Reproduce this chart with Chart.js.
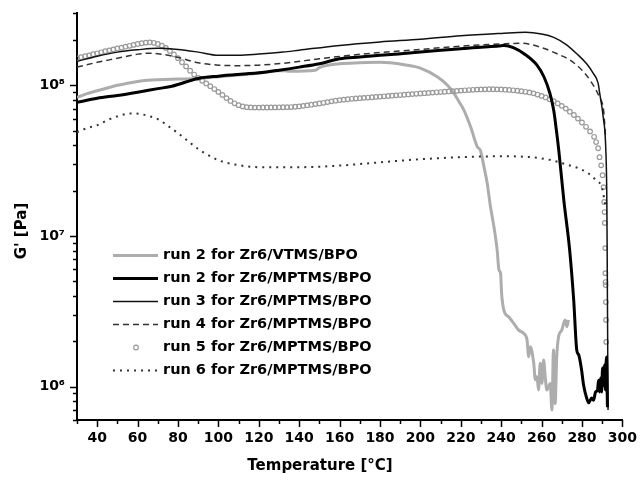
<!DOCTYPE html>
<html><head><meta charset="utf-8">
<script src="https://cdn.jsdelivr.net/npm/chart.js@4"></script>
<style>html,body{margin:0;padding:0;background:#fff}</style>
</head><body>
<canvas id="c" width="640" height="481"></canvas>
<script>
const seriesLabels = ["run 2 for Zr6/VTMS/BPO","run 2 for Zr6/MPTMS/BPO","run 3 for Zr6/MPTMS/BPO","run 4 for Zr6/MPTMS/BPO","run 5 for Zr6/MPTMS/BPO","run 6 for Zr6/MPTMS/BPO"];

const vtmsT = [30,35,40,45,50,55,60,65,70,80,90,100,110,120,130,133,135,148,150,160,170,180,185,192,200,208.5,213.4,216.7,219.2,221.6,224.9,228.2,229.7,231.5,233.1,234.7,236.4,238,238.9,239.7,240.2,241.3,243.8,246.2,248.7,251.2,252.8,253.6,254.4,256.1,256.9,257.7,258.5,259.3,260.2,261,261.8,262.6,264.3,265.1,265.9,266.7,267.5,268.4,270,271.6,272.5,273.3];
const vtmsG = [8.3e7,8.8e7,9.2e7,9.6e7,1.0e8,1.03e8,1.06e8,1.08e8,1.09e8,1.1e8,1.11e8,1.14e8,1.17e8,1.2e8,1.25e8,1.25e8,1.24e8,1.26e8,1.31e8,1.39e8,1.41e8,1.42e8,1.41e8,1.37e8,1.3e8,1.135e8,1.0e8,8.8e7,7.75e7,6.82e7,5.28e7,3.9e7,3.7e7,2.87e7,2.23e7,1.56e7,1.15e7,8.05e6,5.93e6,5.64e6,4.17e6,3.22e6,2.9e6,2.63e6,2.37e6,2.25e6,2.04e6,1.58e6,1.84e6,1.43e6,1.11e6,1.16e6,9.5e5,1.43e6,1.05e6,1.5e6,1.16e6,9.5e5,1.05e6,7.0e5,1.75e6,7.7e5,1.58e6,2.14e6,2.37e6,2.77e6,2.5e6,2.77e6];

const run2T = [30,40,50,60,70,77,90,100,120,130,140,150,160,170,180,200,220,240,241.5,246,251.3,257.7,261.2,264.1,266,267.5,268.5,271,273.9,275.9,277.4,278.4,279.8,280.8,282.3,283.3,284.8,285.7,286.7,287.7,288.2,288.7,289.2,289.7,290.2,290.7,291.2,291.6,292.1,292.6];
const run2G = [7.7e7,8.2e7,8.56e7,9.0e7,9.5e7,9.85e7,1.11e8,1.15e8,1.21e8,1.26e8,1.32e8,1.39e8,1.5e8,1.54e8,1.58e8,1.66e8,1.75e8,1.83e8,1.84e8,1.78e8,1.62e8,1.36e8,1.135e8,8.85e7,6.82e7,4.81e7,3.71e7,1.73e7,8.06e6,3.75e6,1.75e6,1.62e6,1.29e6,1.02e6,8.4e5,7.8e5,8.4e5,8.1e5,9.2e5,9.5e5,1.1e6,9.2e5,1.14e6,9.2e5,1.33e6,1.02e6,1.39e6,9.5e5,1.57e6,7.3e5];

const run3T = [30,40,50,60,70,80,90,100,110,120,132,140,160,180,200,220,240,252,260,266,272,277.4,282.3,285.6,288,288.8,290.5,291.8,292.3,292.6,292.9];
const run3G = [1.44e8,1.56e8,1.66e8,1.72e8,1.76e8,1.73e8,1.66e8,1.58e8,1.58e8,1.61e8,1.66e8,1.71e8,1.84e8,1.94e8,2.02e8,2.13e8,2.21e8,2.25e8,2.19e8,2.08e8,1.87e8,1.62e8,1.39e8,1.2e8,1.03e8,8.8e7,6.17e7,3.71e7,1.73e7,3.75e6,7.0e5];

const run4T = [30,40,50,60,65,70,80,90,100,110,120,132,150,169,180,200,220,240,250,261,268,274,280,284,288.7,290.7,291.6];
const run4G = [1.32e8,1.42e8,1.51e8,1.61e8,1.63e8,1.62e8,1.53e8,1.41e8,1.36e8,1.35e8,1.36e8,1.4e8,1.5e8,1.6e8,1.65e8,1.73e8,1.82e8,1.88e8,1.9e8,1.76e8,1.61e8,1.47e8,1.26e8,1.08e8,8.3e7,6.8e7,4.7e7];

const run5T = [30,32,34,36,38,40,42,44,46,48,50,52,54,56,58,60,62,64,66,68,70,72,74,76,78,80,82,84,86,88,90,92,94,96,98,100,102,104,106,108,110,112,114,116,118,
120,122,124,126,128,130,132,134,136,138,140,142,144,146,148,150,152,154,156,158,160,162,164,166,168,170,172,174,176,178,180,182,184,186,188,190,192,194,196,198,200,202,204,206,208,210,212,214,216,218,220,222,224,226,228,230,232,234,236,238,240,242,244,246,248,250,252,254,256,258,260,262,264,266,268,270,272,274,276,278,280,282,284,286,287,288,
288.7,289.5,290.2,290.7,291.0,291.2,291.3,291.5,291.6,291.65,291.7,291.8,291.9,292.0];
const run5G = [1.51e8,1.535e8,1.56e8,1.58e8,1.607e8,1.63e8,1.656e8,1.683e8,1.706e8,1.73e8,1.754e8,1.778e8,1.803e8,1.828e8,1.854e8,1.879e8,1.901e8,1.919e8,1.928e8,1.914e8,1.879e8,1.832e8,1.77e8,1.69e8,1.603e8,1.514e8,1.422e8,1.334e8,1.25e8,1.178e8,1.119e8,1.072e8,1.028e8,9.86e7,9.44e7,9.04e7,8.63e7,8.22e7,7.87e7,7.59e7,7.38e7,7.24e7,7.16e7,7.13e7,7.11e7,
7.11e7,7.12e7,7.12e7,7.13e7,7.13e7,7.14e7,7.15e7,7.16e7,7.17e7,7.2e7,7.24e7,7.3e7,7.36e7,7.43e7,7.5e7,7.57e7,7.65e7,7.73e7,7.82e7,7.9e7,7.97e7,8.03e7,8.08e7,8.13e7,8.17e7,8.21e7,8.25e7,8.29e7,8.33e7,8.37e7,8.41e7,8.45e7,8.49e7,8.53e7,8.57e7,8.61e7,8.65e7,8.7e7,8.74e7,8.78e7,8.82e7,8.86e7,8.9e7,8.94e7,8.98e7,9.02e7,9.06e7,9.1e7,9.14e7,9.18e7,9.22e7,9.26e7,9.3e7,9.33e7,9.36e7,9.38e7,9.4e7,9.41e7,9.41e7,9.4e7,9.38e7,9.35e7,9.31e7,9.26e7,9.2e7,9.13e7,9.05e7,8.96e7,8.84e7,8.68e7,8.5e7,8.3e7,8.08e7,7.84e7,7.58e7,7.3e7,7.0e7,6.68e7,6.35e7,6.01e7,5.66e7,5.3e7,4.94e7,4.55e7,4.2e7,3.82e7,
3.33e7,2.94e7,2.53e7,2.11e7,1.68e7,1.44e7,1.22e7,8.3e6,5.66e6,4.94e6,4.72e6,3.64e6,2.77e6,1.98e6];

const run6T = [30,35,40,45,50,55,58,62,66,70,75,80,85,90,95,100,110,120,140,160,180,200,220,240,255,265,272,278,283,287,290,291.5];
const run6G = [4.88e7,5.2e7,5.43e7,5.87e7,6.22e7,6.47e7,6.5e7,6.42e7,6.22e7,5.96e7,5.38e7,4.81e7,4.26e7,3.77e7,3.44e7,3.18e7,2.95e7,2.86e7,2.86e7,2.93e7,3.08e7,3.23e7,3.33e7,3.38e7,3.33e7,3.18e7,2.99e7,2.82e7,2.61e7,2.34e7,2.07e7,1.6e7];

const xTickValues = [30,40,50,60,70,80,90,100,110,120,130,140,150,160,170,180,190,200,210,220,230,240,250,260,270,280,290,300];
const xTickLabels = ["","40","","60","","80","","100","","120","","140","","160","","180","","200","","220","","240","","260","","280","","300"];
const yTickValues = [6e5,7e5,8e5,9e5,1e6,2e6,3e6,4e6,5e6,6e6,7e6,8e6,9e6,1e7,2e7,3e7,4e7,5e7,6e7,7e7,8e7,9e7,1e8,2e8,3e8];
const yTickLabels = ["","","","","10\u2076","","","","","","","","","10\u2077","","","","","","","","","10\u2078","",""];
const xTitle = "Temperature [\u00B0C]";
const yTitle = "G' [Pa]";

const FONT = '"DejaVu Sans", sans-serif';
const pts = (T, G) => T.map((t, i) => ({x: t, y: G[i]}));

const datasets = [
  {label: seriesLabels[0], data: pts(vtmsT, vtmsG), borderColor: '#adadad', borderWidth: 3, pointRadius: 0, order: 10},
  {label: seriesLabels[1], data: pts(run2T, run2G), borderColor: '#000', borderWidth: 3, pointRadius: 0, order: 0},
  {label: seriesLabels[2], data: pts(run3T, run3G), borderColor: '#111', borderWidth: 1.5, pointRadius: 0, order: 1},
  {label: seriesLabels[3], data: pts(run4T, run4G), borderColor: '#333', borderWidth: 1.5, borderDash: [6, 4], pointRadius: 0, order: 2},
  {label: seriesLabels[4], data: pts(run5T, run5G), showLine: false, borderColor: '#999', pointRadius: 2.3, pointBorderWidth: 1.2, pointBorderColor: '#9a9a9a', pointBackgroundColor: 'rgba(255,255,255,0)', order: 5},
  {label: seriesLabels[5], data: pts(run6T, run6G), borderColor: '#333', borderWidth: 2, borderDash: [2, 5], pointRadius: 0, order: 3}
];

const decorPlugin = {
  id: 'decor',
  afterDraw(chart) {
    const ctx = chart.ctx, xs = chart.scales.x, ys = chart.scales.y, a = chart.chartArea;
    ctx.save();
    ctx.strokeStyle = '#000';
    ctx.lineWidth = 1.5;
    xs.ticks.forEach(t => {
      const px = Math.round(xs.getPixelForValue(t.value)) + 0.5;
      const len = t.label ? 7 : 4;
      ctx.beginPath(); ctx.moveTo(px, a.bottom); ctx.lineTo(px, a.bottom + len); ctx.stroke();
    });
    ys.ticks.forEach(t => {
      const py = Math.round(ys.getPixelForValue(t.value)) + 0.5;
      const len = t.label ? 7 : 4;
      ctx.beginPath(); ctx.moveTo(a.left, py); ctx.lineTo(a.left - len, py); ctx.stroke();
    });
    // legend
    ctx.textBaseline = 'middle';
    ctx.textAlign = 'left';
    chart.data.datasets.forEach((ds, i) => {
      const y = 255.5 + i * 23;
      ctx.save();
      if (ds.showLine === false) {
        ctx.beginPath(); ctx.arc(136, y, 2.3, 0, Math.PI * 2);
        ctx.strokeStyle = ds.pointBorderColor; ctx.lineWidth = 1.2; ctx.stroke();
      } else {
        ctx.setLineDash(ds.borderDash || []);
        ctx.strokeStyle = ds.borderColor; ctx.lineWidth = ds.borderWidth;
        ctx.beginPath(); ctx.moveTo(113, y); ctx.lineTo(158, y); ctx.stroke();
      }
      ctx.restore();
      ctx.fillStyle = '#000';
      ctx.font = 'bold 14.5px ' + FONT;
      ctx.fillText(ds.label, 163, y);
    });
    // axis titles
    ctx.fillStyle = '#000';
    ctx.font = 'bold 15px ' + FONT;
    ctx.textAlign = 'center';
    ctx.fillText(xTitle, 320, 466);
    ctx.save();
    ctx.translate(22, 231);
    ctx.rotate(-Math.PI / 2);
    ctx.fillText(yTitle, 0, 0);
    ctx.restore();
    ctx.restore();
  }
};

new Chart(document.getElementById('c'), {
  type: 'line',
  data: {datasets},
  options: {
    responsive: false,
    animation: false,
    devicePixelRatio: 1,
    layout: {padding: {left: 0, right: 14, top: 13, bottom: 0}},
    plugins: {legend: {display: false}, tooltip: {enabled: false}},
    elements: {line: {cubicInterpolationMode: 'monotone'}},
    scales: {
      x: {
        type: 'linear', min: 30, max: 300,
        afterBuildTicks: s => { s.ticks = xTickValues.map(v => ({value: v})); },
        afterFit: s => { s.height = 61; },
        ticks: {
          autoSkip: false, maxRotation: 0, padding: 3, color: '#000',
          font: {family: FONT, size: 14, weight: 'bold'},
          callback: (v) => { const i = xTickValues.indexOf(v); return i >= 0 ? xTickLabels[i] : ''; }
        },
        grid: {display: true, drawOnChartArea: false, drawTicks: true, tickLength: 7, color: 'rgba(0,0,0,0)'},
        border: {display: true, color: '#000', width: 2}
      },
      y: {
        type: 'logarithmic', min: 6e5, max: 3e8,
        afterBuildTicks: s => { s.ticks = yTickValues.map(v => ({value: v})); },
        afterFit: s => { s.width = 77; },
        ticks: {
          autoSkip: false, padding: 5, color: '#000',
          font: {family: FONT, size: 14, weight: 'bold'},
          callback: (v) => { const i = yTickValues.findIndex(t => Math.abs(t - v) / t < 1e-6); return i >= 0 ? yTickLabels[i] : ''; }
        },
        grid: {display: true, drawOnChartArea: false, drawTicks: true, tickLength: 7, color: 'rgba(0,0,0,0)'},
        border: {display: true, color: '#000', width: 2}
      }
    }
  },
  plugins: [decorPlugin]
});
</script>
</body></html>
